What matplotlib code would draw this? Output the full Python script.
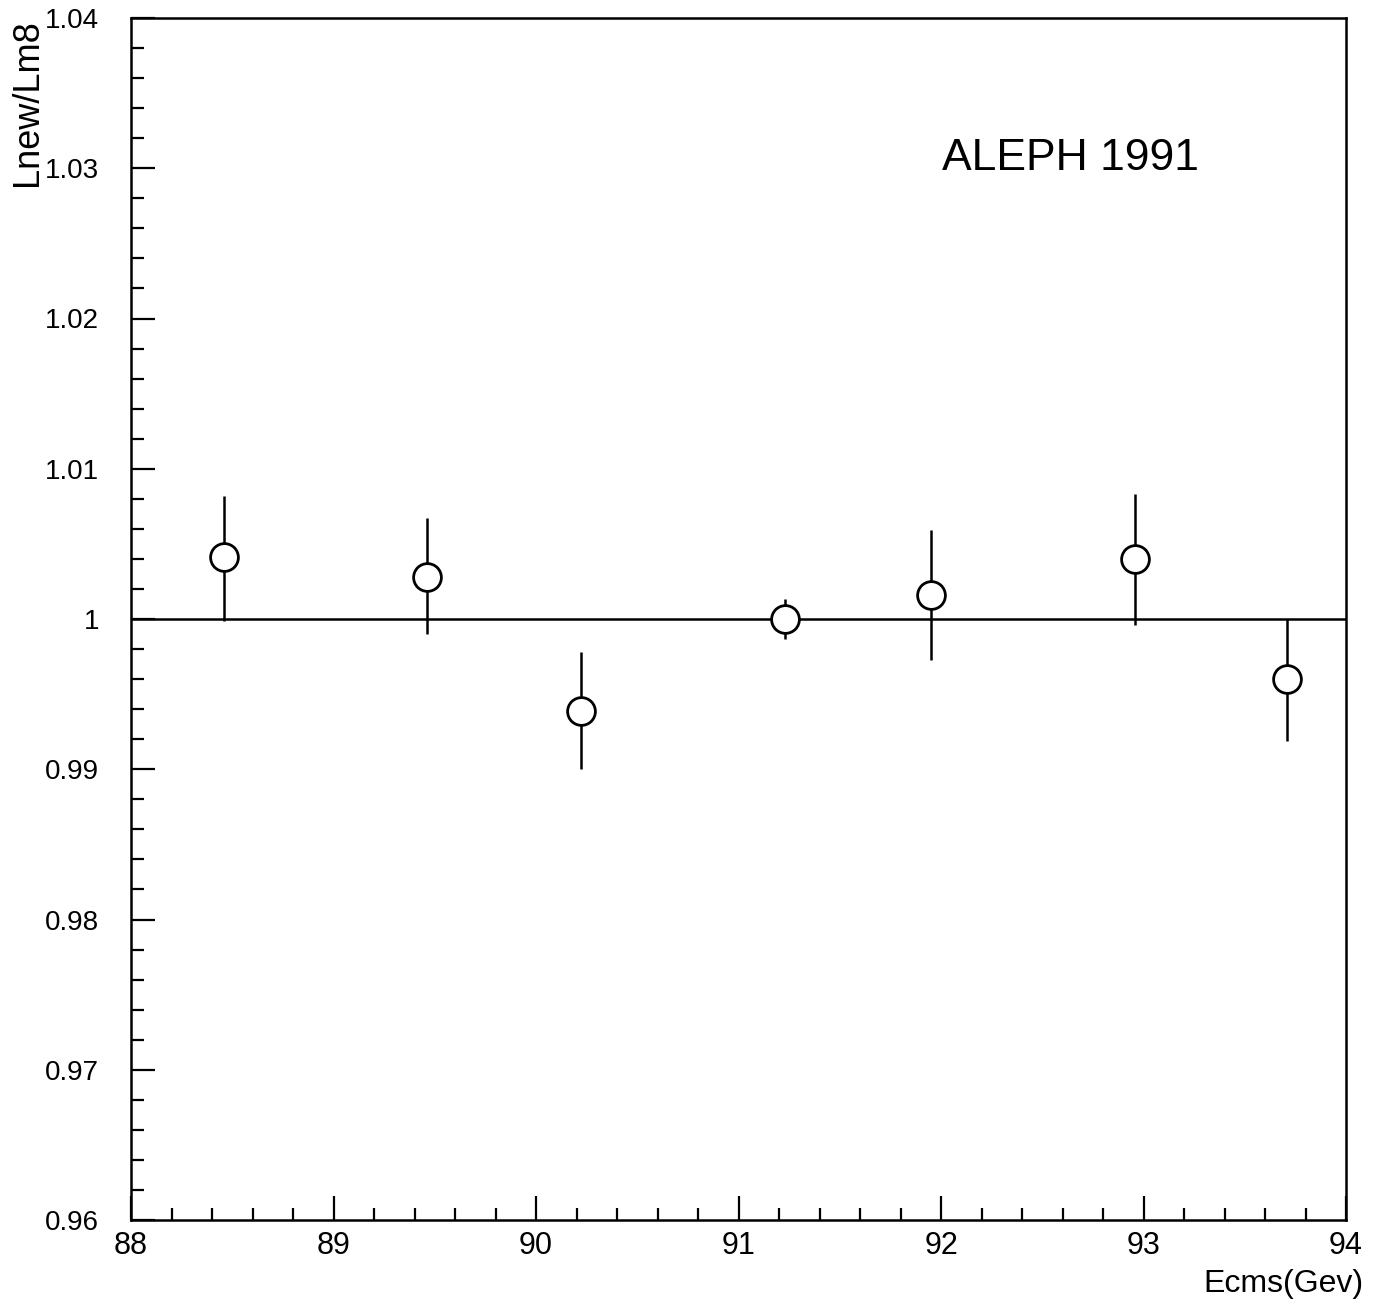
import matplotlib
matplotlib.use("Agg")
import matplotlib.pyplot as plt
from matplotlib.ticker import MultipleLocator, FixedLocator

ecms = [88.46, 89.46, 90.22, 91.23, 91.95, 92.96, 93.71]
ratio = [1.0041, 1.0028, 0.9939, 1.0000, 1.0016, 1.0040, 0.9960]
err_up = [0.0041, 0.0039, 0.0039, 0.0013, 0.0043, 0.0043, 0.0040]
err_dn = [0.0042, 0.0038, 0.0039, 0.0013, 0.0043, 0.0044, 0.0041]

xticks = [88, 89, 90, 91, 92, 93, 94]
xticklabels = ["88", "89", "90", "91", "92", "93", "94"]
yticks = [0.96, 0.97, 0.98, 0.99, 1.00, 1.01, 1.02, 1.03, 1.04]
yticklabels = ["0.96", "0.97", "0.98", "0.99", "1", "1.01", "1.02", "1.03", "1.04"]

plt.rcParams['font.family'] = ['Liberation Sans', 'DejaVu Sans']

fig = plt.figure(figsize=(13.81, 13.02), dpi=100)
ax = fig.add_axes([131/1381, 1-1220/1302, (1346-131)/1381, (1220-18)/1302])

ax.set_xlim(88, 94)
ax.set_ylim(0.96, 1.04)

ax.axhline(1.0, color='black', lw=1.8, zorder=1)
ax.errorbar(ecms, ratio, yerr=[err_dn, err_up], fmt='o', ms=20, mfc='white',
            mec='black', mew=2.0, ecolor='black', elinewidth=1.8, capsize=0, zorder=3)

ax.xaxis.set_major_locator(FixedLocator(xticks))
ax.set_xticklabels(xticklabels)
ax.xaxis.set_minor_locator(MultipleLocator(0.2))
ax.yaxis.set_major_locator(FixedLocator(yticks))
ax.set_yticklabels(yticklabels)
ax.yaxis.set_minor_locator(MultipleLocator(0.002))

ax.tick_params(axis='both', which='both', direction='in', top=False, right=False,
               width=1.6, colors='black')
ax.tick_params(axis='both', which='major', length=17)
ax.tick_params(axis='both', which='minor', length=9)
ax.tick_params(axis='x', which='major', pad=8, labelsize=22)
ax.tick_params(axis='y', which='major', pad=23, labelsize=20)

for s in ax.spines.values():
    s.set_linewidth(1.8)

ax.text(942/1381, 1-158/1302, "ALEPH 1991", transform=fig.transFigure, fontsize=32,
        ha='left', va='center')

fig.text(27/1381, 1-19/1302, "Lnew/Lm8", rotation=90, ha='center', va='top', fontsize=26)
fig.text(1363/1381, 1-1299/1302, "Ecms(Gev)", ha='right', va='bottom', fontsize=23)

fig.savefig("out.png", dpi=100)
